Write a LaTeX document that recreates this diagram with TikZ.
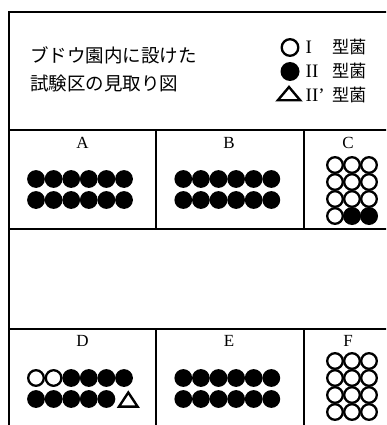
\documentclass[tikz,border=0pt]{standalone}
\usepackage{fontspec}
\setmainfont{Liberation Serif}
\newfontfamily\jp{Noto Sans CJK JP}
\tikzset{
  frame/.style={line width=1.3pt},
  fullc/.style={fill=black},
  openc/.style={draw=black, line width=2.3pt, fill=white},
  tri/.style={draw=black, line width=2.4pt, line join=miter},
  plotlabel/.style={font=\fontsize{17}{17}\selectfont, inner sep=0pt},
  titletext/.style={font=\jp\fontsize{18.5}{18.5}\selectfont, inner sep=0pt, anchor=west},
  legtext/.style={font=\fontsize{19}{19}\selectfont, inner sep=0pt, anchor=west},
}
\newcommand{\legjp}{{\jp\fontsize{17.2}{17.2}\selectfont 型菌}}
\begin{document}
\begin{tikzpicture}[x=1pt,y=-1pt]
\useasboundingbox (0,0) rectangle (386,425);
\begin{scope}
\clip (0,0) rectangle (386,425);
\draw[frame] (9,12) rectangle (398,440);
\draw[frame] (9,130) -- (398,130);
\draw[frame] (9,229) -- (398,229);
\draw[frame] (9,329) -- (398,329);
\draw[frame] (156,130) -- (156,229);
\draw[frame] (304,130) -- (304,229);
\draw[frame] (156,329) -- (156,440);
\draw[frame] (304,329) -- (304,440);

% title
\node[titletext] (t1) at (30,55) {ブドウ園内に設けた};
\node[titletext] (t2) at (30,83) {試験区の見取り図};

% legend
\draw[openc] (290,47.5) circle (8.3);
\fill[fullc] (290,71.5) circle (9.5);
\draw[tri] (289,87) -- (277.8,100.3) -- (300.2,100.3) -- cycle;
\node[legtext] (l1) at (305.5,47) {\makebox[27pt][l]{I}\legjp};
\node[legtext] (l2) at (305.5,71) {\makebox[27pt][l]{II}\legjp};
\node[legtext] (l3) at (305.5,95) {\makebox[27pt][l]{II’}\legjp};

% labels
\node[plotlabel] (la) at (82.5,143) {A};
\node[plotlabel] (lb) at (229,143) {B};
\node[plotlabel] (lc) at (348,143) {C};
\node[plotlabel] (ld) at (82.5,341) {D};
\node[plotlabel] (le) at (229,341) {E};
\node[plotlabel] (lf) at (348,341) {F};

% A, B and E
\foreach \i in {0,...,5} {
  \fill[fullc] (36+17.6*\i,179) circle (8.9);
  \fill[fullc] (36+17.6*\i,200) circle (8.9);
  \fill[fullc] (183.3+17.6*\i,179) circle (8.9);
  \fill[fullc] (183.3+17.6*\i,200) circle (8.9);
  \fill[fullc] (183.3+17.6*\i,378) circle (8.9);
  \fill[fullc] (183.3+17.6*\i,399) circle (8.9);
}
% D
\foreach \i in {0,1} \draw[openc] (36+17.6*\i,378) circle (7.8);
\foreach \i in {2,...,5} \fill[fullc] (36+17.6*\i,378) circle (8.9);
\foreach \i in {0,...,4} \fill[fullc] (36+17.6*\i,399) circle (8.9);
\draw[tri] (128.3,392.5) -- (119,406.6) -- (137.6,406.6) -- cycle;

% C
\foreach \r in {0,1,2} {
  \foreach \c in {0,1,2} \draw[openc] (335+17*\c,165+17*\r) circle (7.8);
}
\draw[openc] (335,216) circle (7.8);
\fill[fullc] (352,216) circle (9);
\fill[fullc] (369,216) circle (9);

% F
\foreach \r in {0,...,3} {
  \foreach \c in {0,1,2} \draw[openc] (335+17*\c,361+17*\r) circle (7.8);
}
\end{scope}
\end{tikzpicture}
\end{document}
